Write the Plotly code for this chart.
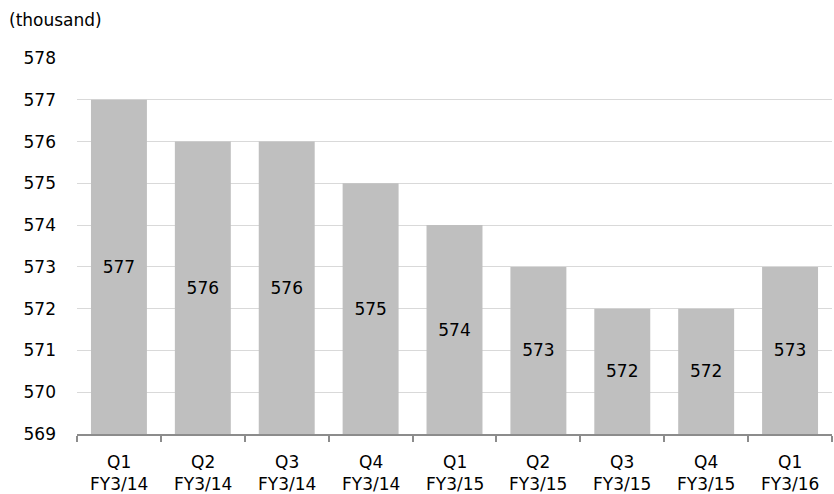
import plotly.graph_objects as go

# Quarterly figures (thousand)
quarters = ["Q1", "Q2", "Q3", "Q4", "Q1", "Q2", "Q3", "Q4", "Q1"]
fiscal_years = ["FY3/14", "FY3/14", "FY3/14", "FY3/14", "FY3/15",
                "FY3/15", "FY3/15", "FY3/15", "FY3/16"]
values = [577, 576, 576, 575, 574, 573, 572, 572, 573]
y_ticks = list(range(569, 579))

FONT = "DejaVu Sans, Noto Sans, sans-serif"
BASE = 569

fig = go.Figure(
    go.Bar(
        x=list(range(len(values))),
        y=[v - BASE for v in values],
        base=BASE,
        marker=dict(color="#bfbfbf", line=dict(width=0)),
        text=[str(v) for v in values],
        textposition="inside",
        insidetextanchor="middle",
        textfont=dict(family=FONT, size=17, color="#000000"),
        hoverinfo="skip",
    )
)

# Two-line category labels: quarter on top, fiscal year below
annotations = []
for i, (q, fy) in enumerate(zip(quarters, fiscal_years)):
    annotations.append(dict(
        text=f"{q}<br>{fy}", x=i, xref="x", y=0, yref="paper",
        yshift=-39, xanchor="center", yanchor="middle",
        showarrow=False, borderpad=0,
        font=dict(family=FONT, size=17, color="#000000"),
    ))
annotations.append(dict(
    text="(thousand)",
    xref="paper", yref="paper",
    x=0, y=1, xshift=-70, yshift=38,
    xanchor="left", yanchor="middle",
    showarrow=False,
    font=dict(family=FONT, size=17, color="#000000"),
))

fig.update_layout(
    width=834,
    height=494,
    margin=dict(l=77, r=2, t=58, b=60),
    paper_bgcolor="white",
    plot_bgcolor="white",
    bargap=0.333,
    showlegend=False,
    font=dict(family=FONT, size=17, color="#000000"),
    xaxis=dict(
        range=[-0.5, len(values) - 0.5],
        tickvals=[i - 0.5 for i in range(len(values) + 1)],
        showticklabels=False,
        showline=True,
        linecolor="#8c8c8c",
        linewidth=2,
        ticks="outside",
        ticklen=6,
        tickwidth=2,
        tickcolor="#8c8c8c",
        showgrid=False,
        zeroline=False,
    ),
    yaxis=dict(
        range=[569, 578],
        tickvals=y_ticks,
        ticktext=[str(t) for t in y_ticks],
        showgrid=True,
        gridcolor="#d9d9d9",
        gridwidth=1,
        zeroline=False,
        showline=False,
        ticks="",
        ticklabelstandoff=20,
        tickfont=dict(family=FONT, size=17),
    ),
    annotations=annotations,
)

fig.write_html("out.html")
